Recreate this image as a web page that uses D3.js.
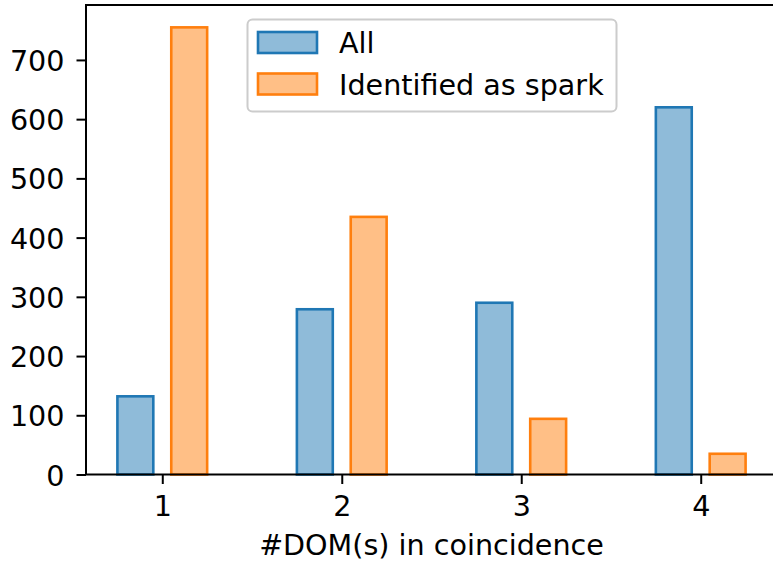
<!DOCTYPE html>
<html>
<head>
<meta charset="utf-8">
<script src="https://cdn.jsdelivr.net/npm/d3@7"></script>
<style>
  html, body { margin: 0; padding: 0; background: #fff; }
  svg { display: block; font-family: "DejaVu Sans", sans-serif; }
</style>
</head>
<body>
<svg id="chart" width="773" height="561"></svg>
<script>
// Number of DOMs in coincidence
const categories = [1, 2, 3, 4];
const allCounts = [132, 279, 290, 620];
const sparkCounts = [755, 435, 94, 35];
const yTicks = [0, 100, 200, 300, 400, 500, 600, 700];
const seriesNames = ["All", "Identified as spark"];

const colors = {
  all: { fill: "#8fbbd9", stroke: "#1f77b4" },
  spark: { fill: "#ffbf86", stroke: "#ff7f0e" }
};

const svg = d3.select("#chart");
const margin = { left: 86, top: 5, right: 777, bottom: 474.5 };

const barOffset = 0.15, barWidth = 0.2;
const x = d3.scaleLinear().domain([0.575, 4.425]).range([margin.left, margin.right]);
const yMax = d3.max(sparkCounts.concat(allCounts)) * 1.05;
const y = d3.scaleLinear().domain([0, yMax]).range([margin.bottom, margin.top]);

const fontSize = 28.6;

// bars
function drawBars(values, offset, col) {
  svg.append("g").selectAll("rect").data(values).join("rect")
    .attr("x", (d, i) => x(categories[i] + offset - barWidth / 2))
    .attr("width", (d, i) => x(categories[i] + offset + barWidth / 2) - x(categories[i] + offset - barWidth / 2))
    .attr("y", d => y(d))
    .attr("height", d => y(0) - y(d))
    .attr("fill", col.fill)
    .attr("stroke", col.stroke)
    .attr("stroke-width", 2.6);
}
drawBars(allCounts, -barOffset, colors.all);
drawBars(sparkCounts, barOffset, colors.spark);

// axes
const xAxis = d3.axisBottom(x).tickValues(categories).tickFormat(d3.format("d"))
  .tickSize(9.5).tickPadding(12);
const gx = svg.append("g").attr("transform", `translate(0,${margin.bottom})`).call(xAxis);
gx.select(".domain").remove();
gx.selectAll(".tick line").attr("stroke", "#000").attr("stroke-width", 2);
gx.selectAll(".tick text").attr("font-size", fontSize).attr("fill", "#000")
  .attr("font-family", "DejaVu Sans");

const yAxis = d3.axisLeft(y).tickValues(yTicks).tickSize(9.5).tickPadding(12);
const gy = svg.append("g").attr("transform", `translate(${margin.left},0)`).call(yAxis);
gy.select(".domain").remove();
gy.selectAll(".tick line").attr("stroke", "#000").attr("stroke-width", 2);
gy.selectAll(".tick text").attr("font-size", fontSize).attr("fill", "#000")
  .attr("font-family", "DejaVu Sans").attr("dy", "0.37em");

// spines
const spine = svg.append("g").attr("stroke", "#000").attr("stroke-width", 2).attr("fill", "none");
spine.append("line").attr("x1", margin.left).attr("x2", margin.left).attr("y1", margin.top).attr("y2", margin.bottom);
spine.append("line").attr("x1", margin.left - 1).attr("x2", margin.right).attr("y1", margin.bottom).attr("y2", margin.bottom);
spine.append("line").attr("x1", margin.left - 1).attr("x2", margin.right).attr("y1", margin.top).attr("y2", margin.top);
spine.append("line").attr("x1", margin.right).attr("x2", margin.right).attr("y1", margin.top).attr("y2", margin.bottom);

// x label
svg.append("text")
  .attr("x", (margin.left + margin.right) / 2)
  .attr("y", 555)
  .attr("text-anchor", "middle")
  .attr("font-size", fontSize)
  .attr("fill", "#000")
  .text("#DOM(s) in coincidence");

// legend
const legend = svg.append("g");
legend.append("rect")
  .attr("x", 247.5).attr("y", 19.5).attr("width", 369).attr("height", 92)
  .attr("rx", 5).attr("fill", "#fff").attr("fill-opacity", 0.8)
  .attr("stroke", "#cccccc").attr("stroke-width", 2);
const legendItems = [
  { name: seriesNames[0], col: colors.all },
  { name: seriesNames[1], col: colors.spark }
];
legendItems.forEach((it, i) => {
  const cy = 42.5 + i * 41.5;
  legend.append("rect")
    .attr("x", 258).attr("y", cy - 10.5).attr("width", 59).attr("height", 21)
    .attr("fill", it.col.fill).attr("stroke", it.col.stroke).attr("stroke-width", 2.6);
  legend.append("text")
    .attr("x", 339).attr("y", cy + 10.5)
    .attr("font-size", fontSize).attr("fill", "#000")
    .text(it.name);
});
</script>
</body>
</html>
